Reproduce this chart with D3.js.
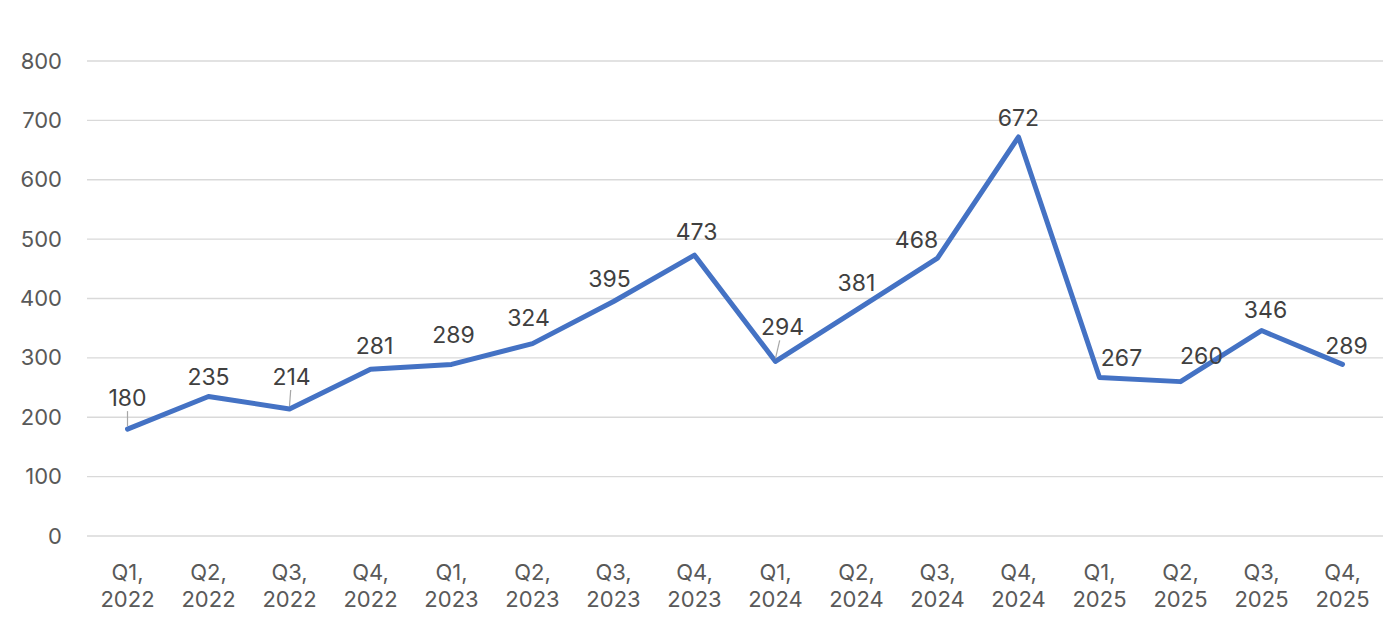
<!DOCTYPE html>
<html>
<head>
<meta charset="utf-8">
<script src="https://cdn.jsdelivr.net/npm/d3@7"></script>
<style>
  body { margin: 0; background: #fff; }
  text { font-family: "Inter", "Liberation Sans", Arial, sans-serif; }
</style>
</head>
<body>
<div id="chart"></div>
<script>
// quarters and values
var quarters = ["Q1, 2022","Q2, 2022","Q3, 2022","Q4, 2022","Q1, 2023","Q2, 2023","Q3, 2023","Q4, 2023",
                "Q1, 2024","Q2, 2024","Q3, 2024","Q4, 2024","Q1, 2025","Q2, 2025","Q3, 2025","Q4, 2025"];
var values = [180, 235, 214, 281, 289, 324, 395, 473, 294, 381, 468, 672, 267, 260, 346, 289];
var yTicks = [0, 100, 200, 300, 400, 500, 600, 700, 800];

// label nudges (px) relative to the point, like the moved labels in the original
var labelDx = [0, 0, 2, 4, 2, -4, -4, 2, 7, 0, -21, 0, 22, 21, 4, 4];
var labelDy = [-31, -20, -32, -23, -29, -26, -23, -23, -34, -27, -18, -19, -20, -26, -21, -18];
var leaders = [0, 2, 8]; // indices of labels with a leader line

var margin = {top: 61, right: 17, bottom: 84, left: 87},
    width = 1400 - margin.left - margin.right,
    height = 620 - margin.top - margin.bottom;

var svg = d3.select("#chart")
  .append("svg")
    .attr("width", 1400)
    .attr("height", 620)
  .append("g")
    .attr("transform", "translate(" + margin.left + "," + margin.top + ")");

var x = d3.scaleBand()
    .domain(quarters)
    .range([0, width]);

var y = d3.scaleLinear()
    .domain([0, 800])
    .range([height, 0]);

// gridlines
svg.append("g")
  .selectAll("line")
  .data(yTicks)
  .enter()
  .append("line")
    .attr("x1", 0)
    .attr("x2", width)
    .attr("y1", function(d) { return y(d); })
    .attr("y2", function(d) { return y(d); })
    .attr("stroke", "#d9d9d9")
    .attr("stroke-width", 1.3);

// Y axis
var yAxis = svg.append("g")
    .call(d3.axisLeft(y).tickValues(yTicks).tickSize(0).tickPadding(25));
yAxis.select(".domain").remove();
yAxis.selectAll("text")
    .attr("fill", "#595959")
    .style("font-size", "22px");

// X axis
var xAxis = svg.append("g")
    .attr("transform", "translate(0," + height + ")")
    .call(d3.axisBottom(x).tickSize(0).tickFormat(""));
xAxis.select(".domain").remove();
xAxis.selectAll(".tick").each(function(d) {
  var parts = d.split(" ");
  var t = d3.select(this).append("text")
      .attr("fill", "#595959")
      .attr("text-anchor", "middle")
      .style("font-size", "22px");
  t.append("tspan").attr("x", 0).attr("y", 44).text(parts[0]);
  t.append("tspan").attr("x", 0).attr("y", 71).text(parts[1]);
});

function px(i) { return x(quarters[i]) + x.bandwidth() / 2; }

// line
var line = d3.line()
    .x(function(d, i) { return px(i); })
    .y(function(d) { return y(d); });

svg.append("path")
    .datum(values)
    .attr("fill", "none")
    .attr("stroke", "#4472C4")
    .attr("stroke-width", 5)
    .attr("stroke-linejoin", "round")
    .attr("stroke-linecap", "round")
    .attr("d", line);

// leader lines
svg.selectAll(".leader")
  .data(leaders)
  .enter()
  .append("line")
    .attr("class", "leader")
    .attr("x1", function(i) { return px(i) + labelDx[i] * 0.6; })
    .attr("y1", function(i) { return y(values[i]) + labelDy[i] + 13; })
    .attr("x2", function(i) { return px(i); })
    .attr("y2", function(i) { return y(values[i]) - 3; })
    .attr("stroke", "#a6a6a6")
    .attr("stroke-width", 1.2);

// data labels
svg.selectAll(".lbl")
  .data(values)
  .enter()
  .append("text")
    .attr("class", "lbl")
    .attr("x", function(d, i) { return px(i) + labelDx[i]; })
    .attr("y", function(d, i) { return y(d) + labelDy[i]; })
    .attr("dy", "0.35em")
    .attr("text-anchor", "middle")
    .attr("fill", "#404040")
    .style("font-size", "23px")
    .text(function(d) { return d; });
</script>
</body>
</html>
